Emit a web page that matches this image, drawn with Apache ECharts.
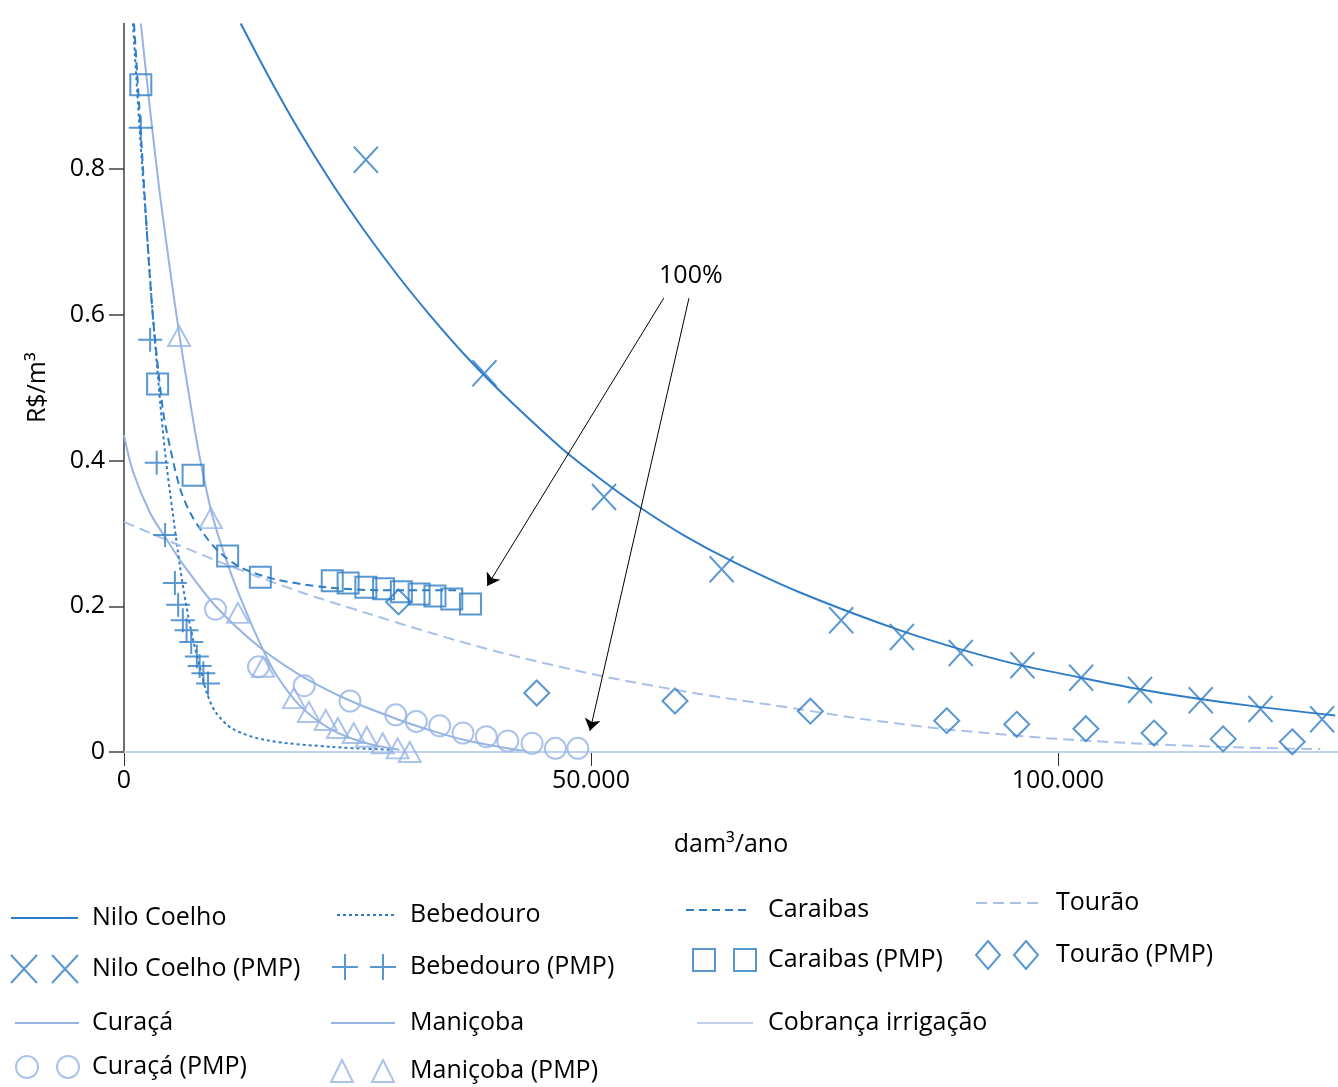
<!DOCTYPE html>
<html>
<head>
<meta charset="utf-8">
<script src="https://cdn.jsdelivr.net/npm/echarts@6/dist/echarts.min.js"></script>
<style>
html,body{margin:0;padding:0;background:#fff;}
#chart{width:1338px;height:1087px;}
</style>
</head>
<body>
<div id="chart"></div>
<script>
// ---------- tick labels ----------
const xTicks = [0, 50000, 100000];
const yTicks = [0, 0.2, 0.4, 0.6, 0.8];

// ---------- fitted curves ----------
const niloCurve = [[12500,1.0],[15500,0.927],[18800,0.852],[22300,0.780],[26000,0.711],[29500,0.651],[33000,0.596],[36500,0.545],[39900,0.500],[43500,0.456],[47300,0.412],[51200,0.373],[55100,0.337],[60000,0.297],[65100,0.262],[72200,0.220],[82200,0.171],[88500,0.145],[95400,0.121],[102500,0.102],[108000,0.088],[113100,0.077],[120300,0.064],[129700,0.050]];
const bebedouroCurve = [[960,1.0],[1700,0.85],[2460,0.712],[3100,0.597],[3950,0.469],[4500,0.400],[5200,0.330],[6000,0.254],[6700,0.199],[7400,0.154],[8300,0.108],[8900,0.080],[9800,0.055],[11600,0.032],[15300,0.016],[22300,0.007],[28700,0.003]];
const caraibasCurve = [[1070,1.0],[1700,0.872],[2460,0.712],[3100,0.597],[4170,0.469],[4900,0.420],[6000,0.362],[7100,0.328],[8500,0.300],[10000,0.277],[12400,0.254],[15900,0.238],[21700,0.226],[27700,0.222],[36200,0.222]];
const curacaCurve = [[0,0.435],[960,0.385],[2800,0.328],[4600,0.291],[6300,0.258],[9900,0.199],[14500,0.144],[18800,0.106],[24100,0.071],[29500,0.044],[33000,0.029],[36600,0.016],[40200,0.007],[43100,0.001]];
const manicobaCurve = [[1800,1.0],[2850,0.875],[3850,0.765],[4900,0.665],[5900,0.575],[7050,0.483],[8100,0.405],[9500,0.323],[11600,0.240],[13500,0.180],[14900,0.140],[16300,0.106],[18800,0.064],[22300,0.030],[26000,0.012],[29500,0.003]];
const touraoCurve = [[0,0.316],[4560,0.291],[11600,0.254],[18800,0.220],[25900,0.191],[33000,0.163],[40200,0.137],[50900,0.105],[61500,0.080],[72200,0.059],[77600,0.048],[82900,0.039],[88200,0.031],[98900,0.019],[109600,0.011],[120300,0.006],[128100,0.004]];
const cobrancaLine = [[0,0],[130000,0]];

// ---------- PMP points ----------
const niloPMP = [[25900,0.813],[38600,0.520],[51400,0.350],[64000,0.251],[76800,0.181],[83300,0.158],[89600,0.136],[96200,0.119],[102500,0.102],[108800,0.085],[115300,0.071],[121700,0.059],[128300,0.045]];
const bebedouroPMP = [[1800,0.857],[2800,0.566],[3500,0.397],[4400,0.298],[5450,0.232],[5800,0.202],[6300,0.181],[6700,0.167],[7200,0.151],[7800,0.131],[8100,0.118],[8500,0.108],[9000,0.094]];
const caraibasPMP = [[1800,0.916],[3600,0.505],[7400,0.380],[11100,0.269],[14600,0.240],[22300,0.235],[24000,0.232],[25900,0.226],[27800,0.224],[29700,0.220],[31600,0.217],[33300,0.214],[35100,0.210],[37100,0.203]];
const curacaPMP = [[9800,0.196],[14400,0.117],[19300,0.091],[24200,0.070],[29100,0.051],[31300,0.042],[33800,0.036],[36300,0.026],[38800,0.021],[41100,0.015],[43700,0.012],[46200,0.005],[48600,0.005]];
const manicobaPMP = [[5900,0.571],[9300,0.321],[12200,0.191],[14900,0.117],[18200,0.074],[19800,0.055],[21600,0.044],[22900,0.033],[24600,0.026],[26000,0.021],[27700,0.012],[29300,0.005],[30600,0.0]];
const touraoPMP = [[29400,0.206],[44200,0.081],[59000,0.070],[73500,0.056],[88100,0.043],[95600,0.038],[103000,0.032],[110300,0.026],[117700,0.018],[125100,0.014]];

// ---------- annotation ----------
const annotText = '100%';
const annotPos = [60700, 0.653];
const annotArrows = [[[57800,0.623],[38900,0.228]], [[60500,0.623],[49900,0.029]]];

// ---------- styles ----------
const DARK = '#2f7dc6';
const LIGHT = '#97b4e3';
const TOUR = '#a9c0e8';
const COBR = '#c3d1ee';
const FONT = 'Open Sans';

const X_PATH = 'path://M0,0L24,26M24,0L0,26';
const PLUS_PATH = 'path://M12,0L12,24M0,12L24,12';

function fmtThousands(v){ return String(v).replace(/\B(?=(\d{3})+(?!\d))/g, '.'); }

function lineSeries(name, data, color, width, type){
  return {name, type:'line', data, symbol:'none', smooth:0.3,
    lineStyle:{color, width, type}, itemStyle:{color}, z:2, silent:true};
}
function scatterSeries(name, data, symbol, size, color){
  return {name, type:'scatter', data, symbol, symbolSize:size,
    itemStyle:{color:'rgba(0,0,0,0)', borderColor:color, borderWidth:2}, z:3, silent:true};
}

const series = [
  lineSeries('Nilo Coelho', niloCurve, DARK, 2, 'solid'),
  scatterSeries('Nilo Coelho (PMP)', niloPMP, X_PATH, [24,26], DARK),
  lineSeries('Curaçá', curacaCurve, LIGHT, 2, 'solid'),
  scatterSeries('Curaçá (PMP)', curacaPMP, 'circle', 21, LIGHT),
  lineSeries('Bebedouro', bebedouroCurve, DARK, 2, [3,3]),
  scatterSeries('Bebedouro (PMP)', bebedouroPMP, PLUS_PATH, [24,24], DARK),
  lineSeries('Maniçoba', manicobaCurve, LIGHT, 2, 'solid'),
  scatterSeries('Maniçoba (PMP)', manicobaPMP, 'triangle', [22,20], LIGHT),
  lineSeries('Caraibas', caraibasCurve, DARK, 2, [8,5]),
  scatterSeries('Caraibas (PMP)', caraibasPMP, 'rect', 21, DARK),
  Object.assign(lineSeries('Cobrança irrigação', cobrancaLine, COBR, 2, 'solid'), {
    smooth:false,
    markLine:{silent:true, symbol:['none','arrow'], symbolSize:12, animation:false,
      itemStyle:{color:'#000'},
      lineStyle:{color:'#000', width:1, type:'solid'}, label:{show:false},
      data: annotArrows.map(a => [{coord:a[0]}, {coord:a[1]}])},
    markPoint:{silent:true, animation:false,
      data:[{coord:annotPos, symbol:'circle', symbolSize:1, itemStyle:{color:'rgba(0,0,0,0)'},
        label:{show:true, position:'inside', formatter:annotText, fontSize:25, color:'#000', fontFamily:FONT}}]}
  }),
  lineSeries('Tourão', touraoCurve, TOUR, 2, [11,6]),
  scatterSeries('Tourão (PMP)', touraoPMP, 'diamond', [25,25], DARK)
];

// legend layout: icon left, icon centre y, icon size, text start x, optional double-marker icon
const legendItems = [
  {name:'Nilo Coelho', left:10, cy:918, w:67, h:20, text:91},
  {name:'Nilo Coelho (PMP)', left:10, cy:969, w:67, h:28, text:91, icon:'path://M0,0L26,28M26,0L0,28M41,0L67,28M67,0L41,28'},
  {name:'Curaçá', left:14, cy:1023, w:64, h:20, text:91},
  {name:'Curaçá (PMP)', left:15, cy:1067, w:63, h:22, text:91, icon:'path://M0,11a11,11 0 1,0 22,0a11,11 0 1,0 -22,0M41,11a11,11 0 1,0 22,0a11,11 0 1,0 -22,0'},
  {name:'Bebedouro', left:336, cy:915, w:60, h:20, text:409},
  {name:'Bebedouro (PMP)', left:331, cy:967, w:64, h:26, text:409, icon:'path://M13,0L13,26M0,13L26,13M51,0L51,26M38,13L64,13'},
  {name:'Maniçoba', left:330, cy:1023, w:64, h:20, text:409},
  {name:'Maniçoba (PMP)', left:330, cy:1071, w:63, h:22, text:409, icon:'path://M11,0L22,22L0,22ZM52,0L63,22L41,22Z'},
  {name:'Caraibas', left:685, cy:910, w:63, h:20, text:767},
  {name:'Caraibas (PMP)', left:692, cy:960, w:63, h:22, text:767, icon:'path://M0,0H22V22H0ZM41,0H63V22H41Z'},
  {name:'Cobrança irrigação', left:696, cy:1023, w:56, h:20, text:767},
  {name:'Tourão', left:975, cy:903, w:63, h:20, text:1055},
  {name:'Tourão (PMP)', left:975, cy:955, w:62, h:28, text:1055, icon:'path://M12,0L24,14L12,28L0,14ZM50,0L62,14L50,28L38,14Z'}
];

const legends = legendItems.map(it => {
  const d = {name: it.name};
  if (it.icon) d.icon = it.icon;
  const lg = {
    data:[d], left: it.left, top: it.cy - 15, padding:0, selectedMode:false,
    itemWidth: it.w, itemHeight: it.h,
    textStyle:{fontSize:25, color:'#000', fontFamily:FONT, lineHeight:30,
      padding:[0,0,0, Math.max(0, it.text - it.left - it.w - 5)]}
  };
  lg.itemStyle = it.icon ? {borderWidth:2} : {color:'rgba(0,0,0,0)', borderWidth:0, borderColor:'rgba(0,0,0,0)'};
  return lg;
});

const option = {
  animation:false,
  backgroundColor:'#fff',
  textStyle:{fontFamily:FONT},
  grid:{left:124, top:23.5, width:1217, height:728.5},
  legend: legends,
  xAxis:{
    type:'value', min:0, max:130000, interval:50000,
    axisLine:{show:false},
    axisTick:{show:true, length:14, customValues:xTicks, lineStyle:{color:'#333', width:1}},
    axisLabel:{customValues:xTicks, formatter:fmtThousands, fontSize:25, color:'#000', margin:16, fontFamily:FONT},
    splitLine:{show:false},
    name:'dam³/ano', nameLocation:'middle', nameGap:80,
    nameTextStyle:{fontSize:25, color:'#000', fontFamily:FONT}
  },
  yAxis:{
    type:'value', min:0, max:1, interval:0.2,
    axisLine:{show:true, lineStyle:{color:'#404040', width:1.5}},
    axisTick:{show:true, length:15, customValues:yTicks, lineStyle:{color:'#404040', width:1.5}},
    axisLabel:{customValues:yTicks, fontSize:25, color:'#000', margin:19, fontFamily:FONT},
    splitLine:{show:false},
    name:'R$/m³', nameLocation:'middle', nameGap:74,
    nameTextStyle:{fontSize:25, color:'#000', fontFamily:FONT}
  },
  series
};

const chart = echarts.init(document.getElementById('chart'), null, {renderer:'canvas'});
chart.setOption(option);
</script>
</body>
</html>
